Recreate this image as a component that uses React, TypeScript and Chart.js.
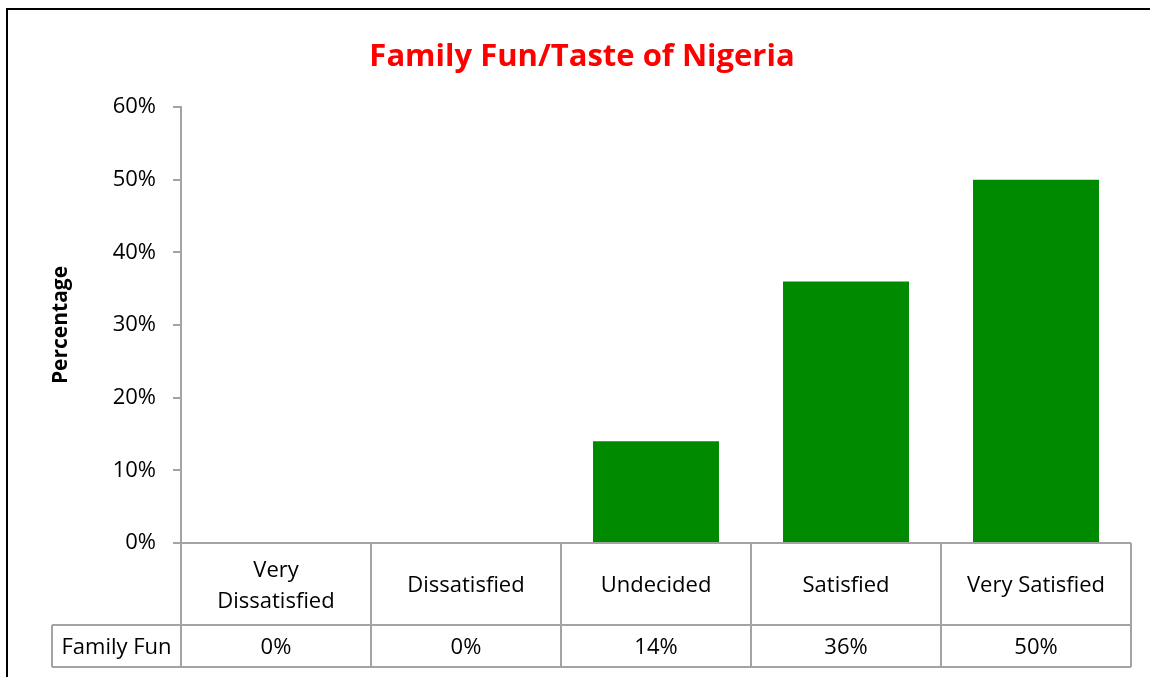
import React, { useEffect, useRef } from "react";
import { Chart, registerables } from "chart.js";

Chart.register(...registerables);

const TITLE = "Family Fun/Taste of Nigeria";
const categories: string[][] = [["Very", "Dissatisfied"], ["Dissatisfied"], ["Undecided"], ["Satisfied"], ["Very Satisfied"]];
const seriesName = "Family Fun";
const familyFun: number[] = [0, 0, 14, 36, 50];
const yTicks: number[] = [0, 10, 20, 30, 40, 50, 60];
const yTitle = "Percentage";

const FONT = "'Open Sans', 'Noto Sans', sans-serif";
const GRAY = "#a3a3a3";
const TXT = 22;

const tablePlugin = {
  id: "tablePlugin",
  afterDraw(chart: any) {
    const ctx = chart.ctx as CanvasRenderingContext2D;
    const area = chart.chartArea;
    const xs = chart.scales.x;
    ctx.save();
    // outer frame
    ctx.strokeStyle = "#000";
    ctx.lineWidth = 2;
    ctx.strokeRect(7, 9, 1160, 700);
    // title
    ctx.fillStyle = "#ff0000";
    ctx.font = `bold 31px ${FONT}`;
    ctx.textAlign = "center";
    ctx.textBaseline = "middle";
    ctx.fillText(TITLE, 582, 57);

    // table
    const step = xs.getPixelForValue(1) - xs.getPixelForValue(0);
    const top = area.bottom;
    const mid = top + 82;
    const bot = top + 124;
    const leftLbl = 52;
    ctx.strokeStyle = GRAY;
    ctx.lineWidth = 2;
    ctx.beginPath();
    ctx.moveTo(area.left, top);
    ctx.lineTo(area.right, top);
    ctx.moveTo(leftLbl, mid);
    ctx.lineTo(area.right, mid);
    ctx.moveTo(leftLbl, bot);
    ctx.lineTo(area.right, bot);
    ctx.moveTo(leftLbl, mid);
    ctx.lineTo(leftLbl, bot);
    for (let i = 0; i <= categories.length; i++) {
      const x = xs.getPixelForValue(0) - step / 2 + i * step;
      ctx.moveTo(x, top);
      ctx.lineTo(x, bot);
    }
    ctx.stroke();

    ctx.fillStyle = "#000";
    ctx.font = `${TXT}px ${FONT}`;
    categories.forEach((lines, i) => {
      const cx = xs.getPixelForValue(i);
      const cy = (top + mid) / 2 + 2;
      const lh = 31;
      lines.forEach((ln, j) => {
        ctx.fillText(ln, cx, cy + (j - (lines.length - 1) / 2) * lh);
      });
      ctx.fillText(`${familyFun[i]}%`, cx, (mid + bot) / 2 + 2);
    });
    ctx.fillText(seriesName, (leftLbl + area.left) / 2, (mid + bot) / 2 + 2);
    ctx.restore();
  },
};

export default function App() {
  const ref = useRef<HTMLCanvasElement>(null);
  useEffect(() => {
    document.body.style.margin = "0";
    const chart = new Chart(ref.current!, {
      type: "bar",
      data: {
        labels: categories.map((c) => c.join(" ")),
        datasets: [
          {
            label: seriesName,
            data: familyFun,
            backgroundColor: "#008a00",
            barPercentage: 0.663,
            categoryPercentage: 1,
          },
        ],
      },
      options: {
        responsive: false,
        animation: false,
        layout: { padding: { top: 107, left: 46, right: 19, bottom: 134 } },
        plugins: { legend: { display: false }, title: { display: false }, tooltip: { enabled: false } },
        scales: {
          x: { display: false },
          y: {
            min: 0,
            max: 60,
            afterBuildTicks: (s: any) => {
              s.ticks = yTicks.map((v) => ({ value: v }));
            },
            afterFit: (s: any) => {
              s.width = 135;
            },
            ticks: {
              callback: (v: any) => `${v}%`,
              color: "#000",
              padding: 17,
              font: { family: FONT, size: TXT },
            },
            grid: { drawOnChartArea: false, drawTicks: true, tickLength: 8, color: GRAY, lineWidth: 2 },
            border: { color: GRAY, width: 2 },
            title: {
              display: true,
              text: yTitle,
              color: "#000",
              font: { family: FONT, size: 21, weight: "bold" },
              padding: { top: 2, bottom: 2 },
            },
          },
        },
      },
      plugins: [tablePlugin],
    });
    return () => chart.destroy();
  }, []);
  return <canvas ref={ref} width={1150} height={677} style={{ display: "block" }} />;
}
